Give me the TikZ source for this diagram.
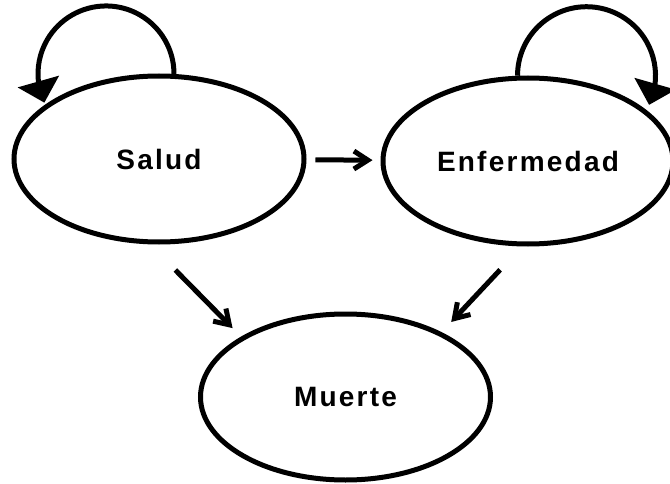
\documentclass[tikz,border=0pt]{standalone}
\usepackage{fontspec}
\setmainfont{Liberation Sans}[LetterSpace=8]
\usepackage{tikz}
\usetikzlibrary{positioning}
\usetikzlibrary{shapes.geometric}
\usetikzlibrary{arrows.meta,bending}
\tikzset{state/.style={draw, ellipse, line width=5pt, minimum width=290pt, minimum height=166pt, font=\fontsize{28}{32}\selectfont\bfseries}}
\tikzset{flow/.style={-{Straight Barb[length=14pt,width=18pt]}, line width=5pt}}
\tikzset{selfloop/.style={-{Triangle[length=22pt,width=42pt]}, line width=5pt}}

\begin{document}
\begin{tikzpicture}[x=1pt,y=1pt]
\useasboundingbox (0,0) rectangle (670,483);
\node[state] (salud) at (159,324) {Salud};
\node[state] (enf) at (528,322) {Enfermedad};
\node[state] (muerte) at (345.5,86) {Muerte};
\draw[flow, shorten <=9pt, shorten >=8pt] (salud) -- (enf);
\draw[flow, shorten <=36pt, shorten >=12pt] (salud.-96) -- (muerte.150);
\draw[flow, shorten <=32pt, shorten >=14pt] (enf.-94) -- (muerte.34);
% self loops
\draw[selfloop] (salud.80) arc[start angle=0, end angle=205, radius=68];
\draw[selfloop] (enf.97) arc[start angle=180, end angle=-25, radius=69];
\end{tikzpicture}
\end{document}
